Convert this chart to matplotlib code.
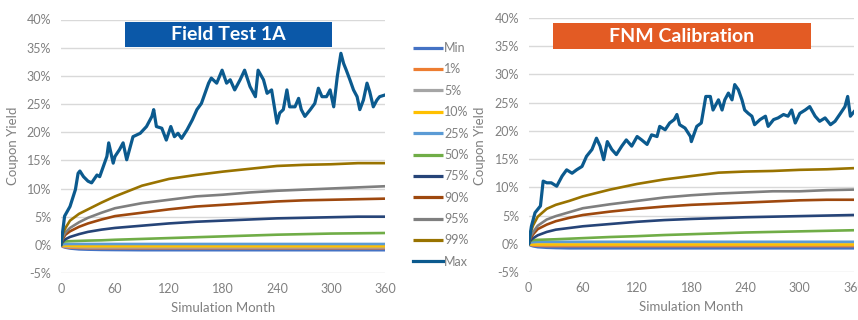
import matplotlib
matplotlib.use("Agg")
import matplotlib.pyplot as plt
from matplotlib.patches import Rectangle

plt.rcParams['font.family'] = ['Lato', 'DejaVu Sans']

# ---------------- data ----------------
series_names = ["Min", "1%", "5%", "10%", "25%", "50%", "75%", "90%", "95%", "99%", "Max"]
series_colors = ["#4472C4", "#ED7D31", "#A5A5A5", "#FFC000", "#5B9BD5", "#70AD47",
                 "#264478", "#9E480E", "#7F7F7F", "#997300", "#0B5A8E"]

pct_months = [0, 2, 5, 10, 20, 30, 45, 60, 90, 120, 150, 180, 210, 240, 270, 300, 330, 360]

# Field Test 1A
ft_min = [0, -0.35, -0.5, -0.65, -0.8, -0.85, -0.9, -0.92, -0.95, -0.95, -0.95, -0.95, -0.95, -0.95, -0.95, -0.95, -0.95, -0.95]
ft_p01 = [0, -0.3, -0.4, -0.5, -0.55, -0.6, -0.6, -0.6, -0.6, -0.6, -0.6, -0.6, -0.6, -0.6, -0.6, -0.6, -0.6, -0.6]
ft_p05 = [0, -0.2, -0.3, -0.35, -0.4, -0.45, -0.45, -0.45, -0.45, -0.45, -0.45, -0.45, -0.45, -0.45, -0.45, -0.45, -0.45, -0.45]
ft_p10 = [0, -0.1, -0.15, -0.2, -0.25, -0.25, -0.25, -0.25, -0.25, -0.25, -0.25, -0.25, -0.25, -0.25, -0.25, -0.25, -0.25, -0.25]
ft_p25 = [0, 0.1, 0.15, 0.15, 0.15, 0.15, 0.15, 0.15, 0.15, 0.15, 0.15, 0.15, 0.15, 0.15, 0.15, 0.15, 0.15, 0.15]
ft_p50 = [0, 0.5, 0.6, 0.65, 0.7, 0.75, 0.8, 0.9, 1.05, 1.2, 1.35, 1.5, 1.65, 1.8, 1.9, 2.0, 2.05, 2.1]
ft_p75 = [0, 0.6, 1.0, 1.4, 1.9, 2.3, 2.7, 3.0, 3.4, 3.8, 4.1, 4.3, 4.5, 4.7, 4.8, 4.9, 5.0, 5.0]
ft_p90 = [0, 1.1, 1.8, 2.4, 3.2, 3.8, 4.5, 5.1, 5.7, 6.3, 6.8, 7.1, 7.4, 7.7, 7.9, 8.0, 8.1, 8.2]
ft_p95 = [0, 1.4, 2.2, 3.0, 4.0, 4.8, 5.7, 6.5, 7.4, 8.0, 8.6, 8.9, 9.3, 9.6, 9.8, 10.0, 10.2, 10.4]
ft_p99 = [0, 2.0, 3.0, 4.3, 5.5, 6.3, 7.5, 8.6, 10.5, 11.7, 12.4, 13.0, 13.5, 14.0, 14.2, 14.3, 14.5, 14.5]
ft_max_months = [0, 4, 10, 16, 19, 21, 25, 30, 34, 40, 43, 51, 53, 58, 60, 65, 69, 73, 80, 88, 95,
                 101, 103, 106, 112, 117, 122, 126, 130, 134, 140, 146, 151, 156, 160, 164, 167,
                 173, 179, 184, 188, 193, 199, 204, 210, 216, 219, 225, 229, 234, 240, 243, 247,
                 251, 254, 260, 264, 267, 271, 277, 282, 286, 290, 295, 299, 303, 307, 311, 314,
                 317, 321, 325, 329, 332, 336, 340, 343, 347, 351, 354, 360]
ft_max = [0, 5.1, 6.8, 9.8, 12.7, 13.1, 12.1, 11.3, 11.0, 12.4, 12.1, 15.7, 18.1, 14.5, 15.7, 16.9,
          18.1, 15.1, 19.2, 19.8, 21.0, 22.8, 24.0, 21.0, 20.7, 18.6, 21.0, 19.2, 19.8, 18.9, 20.4,
          22.2, 24.0, 25.1, 26.9, 28.7, 29.6, 28.7, 31.0, 28.7, 29.3, 27.5, 29.3, 31.0, 28.1, 26.3,
          31.0, 29.3, 26.9, 27.5, 21.6, 23.4, 24.0, 27.5, 24.5, 24.5, 26.0, 24.0, 22.8, 24.0, 25.1,
          27.8, 26.3, 26.3, 27.5, 24.5, 29.9, 34.0, 32.2, 31.0, 29.3, 27.5, 26.3, 24.0, 25.7, 28.7,
          27.2, 24.5, 25.7, 26.3, 26.6]

# FNM Calibration
fnm_min = [0, -0.3, -0.45, -0.6, -0.7, -0.75, -0.8, -0.8, -0.8, -0.8, -0.8, -0.8, -0.8, -0.8, -0.8, -0.8, -0.8, -0.8]
fnm_p01 = [0, -0.2, -0.3, -0.35, -0.4, -0.4, -0.4, -0.4, -0.4, -0.4, -0.4, -0.4, -0.4, -0.4, -0.4, -0.4, -0.4, -0.4]
fnm_p05 = [0, -0.1, -0.15, -0.2, -0.2, -0.2, -0.2, -0.2, -0.2, -0.2, -0.2, -0.2, -0.2, -0.2, -0.2, -0.2, -0.2, -0.2]
fnm_p10 = [0, 0.0, 0.0, 0.0, 0.0, 0.0, 0.0, 0.0, 0.0, 0.0, 0.0, 0.0, 0.0, 0.0, 0.0, 0.0, 0.0, 0.0]
fnm_p25 = [0, 0.25, 0.3, 0.35, 0.35, 0.35, 0.35, 0.35, 0.35, 0.35, 0.35, 0.35, 0.35, 0.35, 0.35, 0.35, 0.35, 0.35]
fnm_p50 = [0, 0.55, 0.65, 0.7, 0.75, 0.8, 0.9, 1.0, 1.2, 1.35, 1.55, 1.7, 1.85, 2.0, 2.1, 2.2, 2.3, 2.4]
fnm_p75 = [0, 0.6, 1.0, 1.5, 2.1, 2.5, 2.8, 3.1, 3.5, 3.9, 4.2, 4.4, 4.55, 4.7, 4.8, 4.9, 5.0, 5.1]
fnm_p90 = [0, 1.0, 1.7, 2.6, 3.4, 4.0, 4.6, 5.1, 5.7, 6.2, 6.6, 6.9, 7.1, 7.3, 7.5, 7.7, 7.8, 7.8]
fnm_p95 = [0, 1.3, 2.1, 3.2, 4.3, 4.9, 5.6, 6.3, 7.0, 7.6, 8.2, 8.6, 8.9, 9.1, 9.3, 9.3, 9.5, 9.6]
fnm_p99 = [0, 2.0, 3.3, 4.8, 6.2, 6.9, 7.6, 8.4, 9.6, 10.6, 11.4, 12.0, 12.6, 12.8, 12.9, 13.1, 13.2, 13.4]
fnm_max_months = [0, 3, 7, 13, 16, 20, 25, 31, 37, 42, 48, 53, 59, 64, 70, 75, 79, 83, 87, 92, 97,
                  103, 108, 114, 120, 125, 131, 136, 142, 145, 151, 156, 161, 164, 167, 173, 179,
                  180, 186, 191, 196, 201, 204, 210, 214, 217, 221, 225, 228, 232, 236, 239, 243,
                  247, 250, 256, 262, 265, 271, 276, 282, 287, 291, 295, 300, 306, 311, 317, 322,
                  328, 334, 339, 345, 350, 353, 356, 360]
fnm_max = [0, 3.1, 5.5, 6.7, 11.1, 10.8, 10.8, 10.2, 12.0, 13.1, 12.5, 13.1, 13.7, 15.5, 16.7, 18.7,
           17.3, 14.9, 18.1, 16.7, 15.8, 17.3, 18.4, 17.3, 19.0, 18.4, 17.6, 19.3, 19.0, 20.8, 20.2,
           21.4, 22.0, 22.9, 21.1, 20.5, 19.0, 18.1, 20.8, 21.4, 26.1, 26.1, 23.7, 25.5, 23.7, 25.5,
           26.7, 25.5, 28.2, 27.3, 25.5, 23.7, 23.1, 22.6, 21.1, 22.0, 22.6, 20.8, 22.0, 22.3, 22.9,
           22.6, 23.7, 21.4, 23.1, 23.7, 24.3, 22.6, 21.7, 22.3, 21.1, 21.7, 23.1, 24.3, 26.1, 22.6,
           23.4]

y_ticks = [-5, 0, 5, 10, 15, 20, 25, 30, 35, 40]
x_ticks = [0, 60, 120, 180, 240, 300, 360]

panels = [
    dict(title="Field Test 1A", box="#0B58A8",
         pct=[ft_min, ft_p01, ft_p05, ft_p10, ft_p25, ft_p50, ft_p75, ft_p90, ft_p95, ft_p99],
         max_m=ft_max_months, max_v=ft_max,
         rect=[61/858, 1-273/320, 324/858, (273-19.5)/320],
         box_rect=[125/858, 1-47/320, 207/858, 25/320], ylab_x=13/858),
    dict(title="FNM Calibration", box="#E35B24",
         pct=[fnm_min, fnm_p01, fnm_p05, fnm_p10, fnm_p25, fnm_p50, fnm_p75, fnm_p90, fnm_p95, fnm_p99],
         max_m=fnm_max_months, max_v=fnm_max,
         rect=[528.7/858, 1-272/320, 325.3/858, (272-18)/320],
         box_rect=[553/858, 1-49/320, 258/858, 26/320], ylab_x=480/858),
]

fig = plt.figure(figsize=(8.58, 3.2), dpi=100)
tick_color = "#808080"
handles = []
for i, p in enumerate(panels):
    ax = fig.add_axes(p["rect"])
    ax.set_xlim(0, 360)
    ax.set_ylim(-5, 40)
    ax.set_yticks(y_ticks)
    ax.set_yticklabels([f"{t}%" for t in y_ticks])
    ax.set_xticks(x_ticks)
    ax.grid(axis="y", color="#D9D9D9", linewidth=1.0)
    ax.set_axisbelow(True)
    for s in ax.spines.values():
        s.set_visible(False)
    ax.tick_params(length=0, labelsize=9, colors=tick_color, pad=7)
    ax.set_xlabel("Simulation Month", fontsize=9.5, color=tick_color, labelpad=5)
    hs = []
    for name, col, vals in zip(series_names[:-1], series_colors[:-1], p["pct"]):
        h, = ax.plot(pct_months, vals, color=col, linewidth=1.9, label=name, solid_capstyle="butt")
        hs.append(h)
    h, = ax.plot(p["max_m"], p["max_v"], color=series_colors[-1], linewidth=2.3, label="Max")
    hs.append(h)
    if i == 0:
        handles = hs
    fig.text(p["ylab_x"], 1 - 146/320, "Coupon Yield", rotation=90, ha="center", va="center",
             fontsize=9.5, color=tick_color)
    bx = p["box_rect"]
    fig.add_artist(Rectangle((bx[0], bx[1]), bx[2], bx[3], transform=fig.transFigure,
                             facecolor=p["box"], edgecolor="none"))
    fig.text(bx[0] + bx[2]/2, bx[1] + bx[3]/2, p["title"], ha="center", va="center",
             fontsize=14, fontweight="bold", color="white")

leg = fig.legend(handles=handles, labels=series_names, loc="upper left",
                 bbox_to_anchor=(413/858, 1 - 42/320), frameon=False, fontsize=9,
                 handlelength=2.4, handletextpad=0.1, labelspacing=0.75, borderaxespad=0,
                 borderpad=0)
for t in leg.get_texts():
    t.set_color(tick_color)
for l in leg.get_lines():
    l.set_linewidth(2.3)

fig.savefig("out.png", dpi=100)
